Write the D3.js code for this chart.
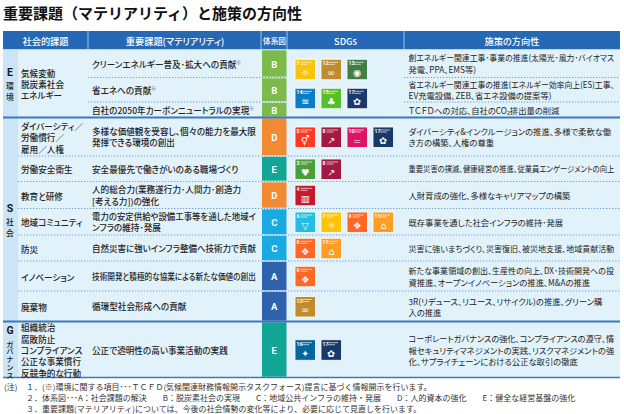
<!DOCTYPE html>
<html><head><meta charset="utf-8">
<script src="https://cdn.jsdelivr.net/npm/d3@7"></script>
<style>
html,body{margin:0;padding:0;background:#fff;}
svg{display:block;font-family:"Noto Sans CJK JP","Noto Sans",sans-serif;}
.palt{font-feature-settings:"palt" 1;}
</style></head><body>
<svg id="c" width="624" height="414"></svg>
<script>
// ---------- DATA ----------
const title = "重要課題（マテリアリティ）と施策の方向性";
const headers = ["社会的課題","重要課題(マテリアリティ)","体系図","SDGs","施策の方向性"];
const sectionLetters = ["E","S","G"];
const sectionNames = ["環境","社会","ガバナンス"];
const sectionRows = [[0,2],[3,9],[10,10]];
const groupRows = [[0,2],[3,3],[4,4],[5,5],[6,6],[7,7],[8,8],[9,9],[10,10]];
const issueTexts = [
  "気候変動\n脱炭素社会\nエネルギー",
  "ダイバーシティ／\n労働慣行／\n雇用／人権",
  "労働安全衛生",
  "教育と研修",
  "地域コミュニティ",
  "防災",
  "イノベーション",
  "廃棄物",
  "組織統治\n腐敗防止\nコンプライアンス\n公正な事業慣行\n反競争的な行動"
];
const sdgSets = [[7,12,13,14,15,17],[5,8,10,17],[3,8],[4],[6,7,9,11],[9,11],[9],[12],[16,17]];
const materialities = [
  "クリーンエネルギー普及･拡大への貢献",
  "省エネへの貢献",
  "自社の2050年カーボンニュートラルの実現",
  "多様な価値観を受容し、個々の能力を最大限\n発揮できる環境の創出",
  "安全最優先で働きがいのある職場づくり",
  "人的総合力(業務遂行力･人間力･創造力\n[考える力])の強化",
  "電力の安定供給や設備工事等を通した地域イ\nンフラの維持･発展",
  "自然災害に強いインフラ整備へ技術力で貢献",
  "技術開発と積極的な協業による新たな価値の創出",
  "循環型社会形成への貢献",
  "公正で透明性の高い事業活動の実践"
];
const tcfdMarks = [1,1,1,0,0,0,0,0,0,0,0];
const badges = ["B","B","B","D","E","D","C","C","A","A","E"];
const measures = [
  "創エネルギー関連工事･事業の推進(太陽光･風力･バイオマス\n発電、PPA、EMS等)",
  "省エネルギー関連工事の推進(エネルギー効率向上(ES)工事、\nEV充電設備、ZEB、省エネ設備の提案等)",
  "ＴＣＦＤへの対応、自社のCO₂排出量の削減",
  "ダイバーシティ&インクルージョンの推進、多様で柔軟な働\nき方の構築、人権の尊重",
  "重要災害の撲滅、健康経営の推進、従業員エンゲージメントの向上",
  "人財育成の強化、多様なキャリアマップの構築",
  "既存事業を通した社会インフラの維持･発展",
  "災害に強いまちづくり、災害復旧、被災地支援、地域貢献活動",
  "新たな事業領域の創出、生産性の向上、DX･技術開発への投\n資推進、オープンイノベーションの推進、M&Aの推進",
  "3R(リデュース、リユース、リサイクル)の推進、グリーン購\n入の推進",
  "コーポレートガバナンスの強化、コンプライアンスの遵守、情\n報セキュリティマネジメントの実践、リスクマネジメントの強\n化、サプライチェーンにおける公正な取引の徹底"
];
const badgeKeys = ["A","B","C","D","E"];
const badgeMeanings = ["社会課題の解決","脱炭素社会の実現","地域公共インフラの維持・発展","人的資本の強化","健全な経営基盤の強化"];
const noteLabel = "(注)";
const notes = [
  "１．(※)環境に関する項目･･･ＴＣＦＤ(気候関連財務情報開示タスクフォース)提言に基づく情報開示を行います。",
  "２．体系図･･･" + badgeKeys.map((k,i)=>k+"："+badgeMeanings[i]).join("　　"),
  "３．重要課題(マテリアリティ)については、今後の社会情勢の変化等により、必要に応じて見直しを行います。"
];

// ---------- STYLE / LAYOUT ----------
const sdgGoals = [3,4,5,6,7,8,9,10,11,12,13,14,15,16,17];
const sdgColor = d3.scaleOrdinal(sdgGoals,
  ["#4C9F38","#C5192D","#FF3A21","#26BDE2","#FCC30B","#A21942","#FD6925","#DD1367","#FD9D24","#BF8B2E","#3F7E44","#0A7DC9","#56C02B","#00689D","#19396A"]);
const sdgGlyph = d3.scaleOrdinal(sdgGoals,
  ["♥","▥","⚥","▽","☼","↗","❖","=","⌂","∞","◉","≋","♣","✦","✿"]);
const badgeColor = d3.scaleOrdinal(badgeKeys, ["#2f62ad","#7bba4b","#19aae2","#f28a33","#12a596"]);

const rowH = [28,24.5,15.5,38.5,25.5,27,26.5,26,30,30.5,56];
const top0 = 49.5;
const rowTop = [];
{ let y = top0; rowH.forEach(h=>{rowTop.push(y); y+=h;}); rowTop.push(y); }
const yTop = i => rowTop[i], yBot = i => rowTop[i+1];
const col = {left:3, issue:18, mat:88, badge:262, badgeEnd:286.5, sdg:287, meas:404, right:620};

const svg = d3.select("#c");
const ink = "#222";

// title
svg.append("text").attr("x",3).attr("y",19).attr("font-size",15).attr("font-weight",700)
  .attr("fill","#111").text(title);

// header
svg.append("rect").attr("x",col.left).attr("y",31).attr("width",col.right-col.left).attr("height",top0-31).attr("fill","#2668b5");
[col.mat, col.badge-1, col.sdg, col.meas].forEach(x=>{
  svg.append("line").attr("x1",x).attr("x2",x).attr("y1",31).attr("y2",top0).attr("stroke","#9cc4ec").attr("stroke-width",1);
});
const headCenters = [(col.left+col.mat)/2, (col.mat+col.badge)/2, (col.badge+col.sdg)/2, (col.sdg+col.meas)/2, (col.meas+col.right)/2];
headers.forEach((h,i)=>{
  svg.append("text").attr("class","palt").attr("x",headCenters[i]).attr("y",40.5)
    .attr("dominant-baseline","central").attr("text-anchor","middle")
    .attr("font-size", i===2?7.6:9.2).attr("font-weight",500).attr("fill","#fff").text(h);
});

// body background
const bodyBottom = rowTop[rowTop.length-1];
svg.append("rect").attr("x",col.left).attr("y",top0).attr("width",col.right-col.left).attr("height",bodyBottom-top0).attr("fill","#e2f2fb");
svg.append("rect").attr("x",col.left).attr("y",top0).attr("width",col.issue-col.left).attr("height",bodyBottom-top0).attr("fill","#cbe5f6");

// dotted row separators
function dotted(x1,x2,y){
  svg.append("line").attr("x1",x1).attr("x2",x2).attr("y1",y).attr("y2",y)
    .attr("stroke","#6d9fd4").attr("stroke-width",1).attr("stroke-dasharray","1.3,1.7");
}
for (let i=1;i<rowH.length;i++){
  const sec = sectionRows.findIndex(r=>i>r[0] && i<=r[1]);
  if (sec<0) continue;
  const y = rowTop[i];
  if (sec===0){ dotted(col.mat, col.badgeEnd, y); dotted(col.meas, col.right, y); }
  else dotted(col.issue, col.right, y);
}

// badges
badges.forEach((b,i)=>{
  const y0 = yTop(i)+0.8, y1 = yBot(i)-0.8;
  svg.append("rect").attr("x",col.badge).attr("y",y0).attr("width",col.badgeEnd-col.badge).attr("height",y1-y0)
    .attr("fill",badgeColor(b));
  svg.append("text").attr("x",(col.badge+col.badgeEnd)/2).attr("y",(yTop(i)+yBot(i))/2+0.5)
    .attr("dominant-baseline","central").attr("text-anchor","middle")
    .attr("font-size",9.5).attr("font-weight",700).attr("fill","#fff").attr("font-family","Roboto, Arial, sans-serif").text(b);
});

// section solid separators
sectionRows.forEach((r,k)=>{
  if (k===0) return;
  svg.append("line").attr("x1",col.left).attr("x2",col.right).attr("y1",yTop(r[0])).attr("y2",yTop(r[0]))
    .attr("stroke","#3d78bf").attr("stroke-width",2);
});
svg.append("line").attr("x1",col.left).attr("x2",col.right).attr("y1",bodyBottom).attr("y2",bodyBottom)
  .attr("stroke","#3d78bf").attr("stroke-width",1.5);

// multi-line text helper (each line its own text, squeezed horizontally if wider than maxW)
function multi(x, cy, txt, size, lh, weight, maxW, mark){
  const lines = txt.split("\n");
  lines.forEach((l,i)=>{
    const y = cy + (i-(lines.length-1)/2)*lh;
    const t = svg.append("text").attr("class","palt").attr("font-size",size).attr("font-weight",weight||400)
      .attr("fill",ink).attr("dominant-baseline","central")
      .attr("x",0).attr("y",0).text(l);
    if (mark && i===lines.length-1)
      t.append("tspan").attr("font-size",4.8).attr("dy",-2.6).attr("fill","#555").text("※");
    let k = 1;
    if (maxW){
      const w = t.node().getComputedTextLength();
      if (w > maxW) k = maxW/w;
    }
    t.attr("transform", `translate(${x},${y}) scale(${k},1)`);
  });
}

// section letters & names (vertical)
sectionLetters.forEach((L,k)=>{
  const r = sectionRows[k];
  const c = (yTop(r[0])+yBot(r[1]))/2;
  const name = sectionNames[k];
  const sp = name.length>2 ? 7.8 : 10.8;
  const fs = name.length>2 ? 7.4 : 7.8;
  const H = 13.5 + name.length*sp;
  const ly = c + 2 - H/2 + 5;
  svg.append("text").attr("x",10).attr("y",ly).attr("text-anchor","middle").attr("dominant-baseline","central")
    .attr("font-size",10.5).attr("font-weight",700).attr("fill","#1a1a1a").attr("font-family","Roboto, Arial, sans-serif").text(L);
  svg.append("text").attr("x",10).attr("y",ly+13.5-sp/2+ (sp-fs)/2)
    .attr("writing-mode","vertical-rl").attr("glyph-orientation-vertical","0")
    .attr("font-size",fs).attr("font-weight",500).attr("fill",ink)
    .attr("letter-spacing", sp-fs)
    .text(name);
});

// issues & SDGs per group
const iconS = 20.5, iconP = 26, iconX0 = 295;
groupRows.forEach((r,g)=>{
  const c = (yTop(r[0])+yBot(r[1]))/2;
  multi(21, c+0.5, issueTexts[g], 8.6, 11.3, 500, 64);
  const set = sdgSets[g];
  const cols = set.length>4 ? 3 : 4;
  const nrows = Math.ceil(set.length/cols);
  set.forEach((n,i)=>{
    const cx = i%cols, ry = Math.floor(i/cols);
    const x = iconX0 + cx*iconP;
    const y = c + 0.5 - (nrows*iconS + (nrows-1)*(29-iconS))/2 + ry*29;
    const gI = svg.append("g").attr("transform",`translate(${x},${y})`);
    gI.append("rect").attr("width",iconS).attr("height",iconS).attr("fill",sdgColor(n)).attr("stroke","#fff").attr("stroke-width",0.8);
    gI.append("text").attr("x",1.6).attr("y",4.2).attr("dominant-baseline","central").attr("font-size",5).attr("font-weight",700)
      .attr("fill","#fff").attr("font-family","Roboto, Arial, sans-serif").text(n);
    gI.append("rect").attr("x",n>9?7:5.5).attr("y",2.6).attr("width",n>9?10:11.5).attr("height",0.8).attr("fill","#fff").attr("opacity",0.8);
    gI.append("rect").attr("x",n>9?7:5.5).attr("y",4.6).attr("width",7).attr("height",0.8).attr("fill","#fff").attr("opacity",0.8);
    gI.append("text").attr("x",iconS/2).attr("y",13.3).attr("text-anchor","middle").attr("dominant-baseline","central")
      .attr("font-size",9.5).attr("fill","#fff").attr("font-family","DejaVu Sans, sans-serif").text(sdgGlyph(n));
  });
});

// materialities & measures per row
materialities.forEach((m,i)=>{
  const c = (yTop(i)+yBot(i))/2;
  multi(92, c, m, 8.6, 11.3, 500, 164, tcfdMarks[i]);
  multi(408.5, c, measures[i], 8.3, 11.2, 400, 206);
});

// notes
svg.append("text").attr("x",4).attr("y",386).attr("dominant-baseline","central")
  .attr("font-size",8).attr("fill","#333").text(noteLabel);
notes.forEach((n,i)=>{
  svg.append("text").attr("x",26).attr("y",386+i*11).attr("dominant-baseline","central")
    .attr("font-size",8).attr("fill","#333").text(n);
});
</script></body></html>
